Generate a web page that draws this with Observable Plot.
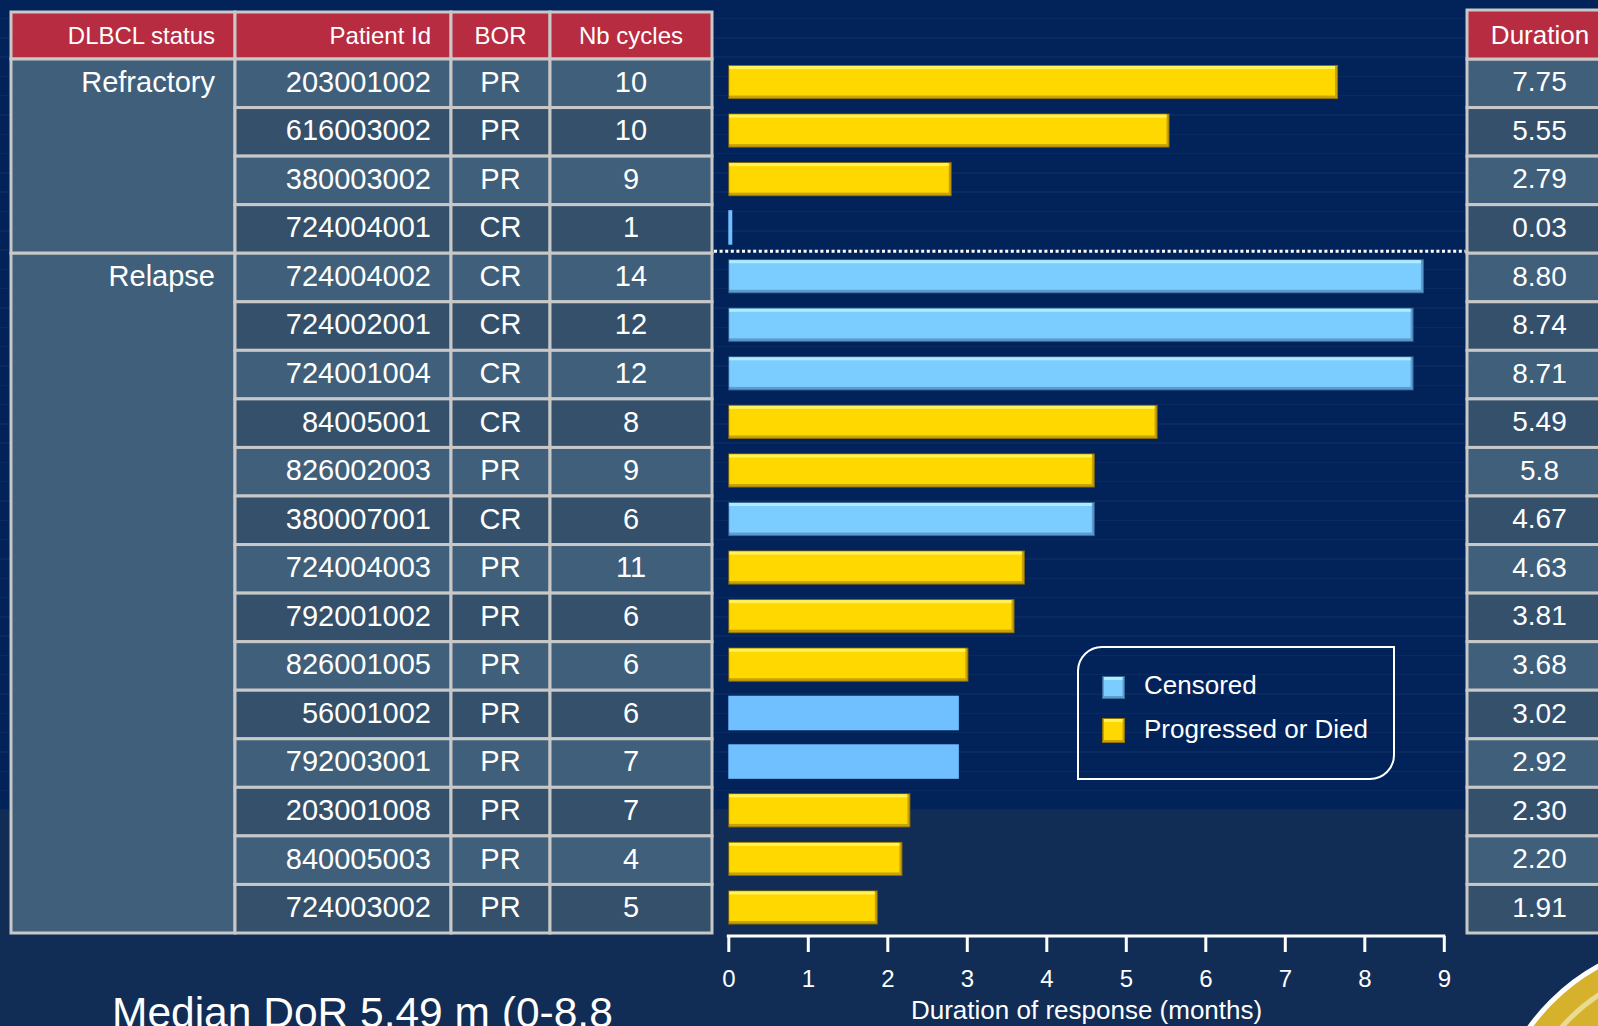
<!DOCTYPE html>
<html>
<head>
<meta charset="utf-8">
<script src="https://cdn.jsdelivr.net/npm/d3@7"></script>
<script src="https://cdn.jsdelivr.net/npm/@observablehq/plot@0.6"></script>
<style>
html, body { margin: 0; padding: 0; }
body { width: 1598px; height: 1026px; overflow: hidden; position: relative; background: #112d55; font-family: 'Liberation Sans', Arial, sans-serif; }
#topband { position: absolute; left: 0; top: 0; width: 1598px; height: 810px;
  background: repeating-linear-gradient(to bottom, #02225a 0px, #02225a 17.8px, #0a2a5f 17.8px, #0a2a5f 19.3px); }
#chart { position: absolute; left: 0; top: 0; }
</style>
</head>
<body>
<div id="topband"></div>
<div id="chart"></div>
<script>
// ---------------- data ----------------
const patientIds = ["203001002","616003002","380003002","724004001","724004002","724002001","724001004","84005001","826002003","380007001","724004003","792001002","826001005","56001002","792003001","203001008","840005003","724003002"];
const dlbclStatus = ["Refractory","Refractory","Refractory","Refractory","Relapse","Relapse","Relapse","Relapse","Relapse","Relapse","Relapse","Relapse","Relapse","Relapse","Relapse","Relapse","Relapse","Relapse"];
const bestResponse = ["PR","PR","PR","CR","CR","CR","CR","CR","PR","CR","PR","PR","PR","PR","PR","PR","PR","PR"];
const nbCycles = [10,10,9,1,14,12,12,8,9,6,11,6,6,6,7,7,4,5];
const durationText = ["7.75","5.55","2.79","0.03","8.80","8.74","8.71","5.49","5.8","4.67","4.63","3.81","3.68","3.02","2.92","2.30","2.20","1.91"];
const barMonths = [7.67,5.55,2.81,0.05,8.75,8.62,8.62,5.40,4.61,4.61,3.73,3.60,3.02,2.90,2.90,2.29,2.19,1.88];
const outcome = ["Progressed or Died","Progressed or Died","Progressed or Died","Censored","Censored","Censored","Censored","Progressed or Died","Progressed or Died","Censored","Progressed or Died","Progressed or Died","Progressed or Died","Censored","Censored","Progressed or Died","Progressed or Died","Progressed or Died"];
const tableHeaders = ["DLBCL status","Patient Id","BOR","Nb cycles"];
const durationHeader = "Duration";
const xTicks = [0,1,2,3,4,5,6,7,8,9];
const xLabel = "Duration of response (months)";
const legendLabels = ["Censored","Progressed or Died"];
const medianNote = "Median DoR 5.49 m (0-8.8";

// ---------------- layout & style ----------------
const FONT = "'Liberation Sans', Arial, Helvetica, sans-serif";
const rows = patientIds.map((id, i) => ({
  row: String(i), id, status: dlbclStatus[i], bor: bestResponse[i], cycles: nbCycles[i],
  duration: durationText[i], months: barMonths[i], outcome: outcome[i]
}));
const rowKeys = rows.map(d => d.row);

const Y_TOP = 59, Y_BOTTOM = 933, AXIS_Y = 936;
const ROW_H = (Y_BOTTOM - Y_TOP) / rows.length;
const COLS = [11, 235, 451, 550, 712];
const HEADER_TOP = 12;
const DUR_COL = [1467, 1614];
const DUR_TOP = 10;
const GRID = "#c8c8c8";
const HEAD_FILL = "#b82c41";
const CELL_A = "#405f7a", CELL_B = "#34506a";

const STYLE = {
  "Progressed or Died": {edge: "#8c7008", shade: "#c9a206", body: "#ffd800", light: "#fff35c"},
  "Censored": {edge: "#3a6b9a", shade: "#5e9ccd", body: "#7ccdff", light: "#b0ecff"}
};
const FLAT_BLUE = "#70c0ff";
const flatBarRows = new Set([3, 13, 14]);
const BAR_TOP = 6, BAR_BOTTOM = 8.5;

function bevelBars(data, s) {
  const c = {x: "months", y: "row"};
  return [
    Plot.barX(data, {...c, fill: s.edge, insetTop: BAR_TOP, insetBottom: BAR_BOTTOM}),
    Plot.barX(data, {...c, fill: s.shade, insetTop: BAR_TOP + 1, insetBottom: BAR_BOTTOM + 1, insetLeft: 1, insetRight: 1}),
    Plot.barX(data, {...c, fill: s.body, insetTop: BAR_TOP + 1, insetBottom: BAR_BOTTOM + 3.5, insetLeft: 1, insetRight: 3}),
    Plot.barX(data, {...c, fill: s.light, insetTop: BAR_TOP + 1, insetBottom: ROW_H - BAR_TOP - 4, insetLeft: 1, insetRight: 3})
  ];
}

function addText(g, str, x, yb, size, anchor) {
  g.append("text").attr("x", x).attr("y", yb).attr("font-size", size)
    .attr("text-anchor", anchor).attr("fill", "white").attr("font-family", FONT).text(str);
}
function addRect(g, x, y, w, h, fill, stroke) {
  const r = g.append("rect").attr("x", x).attr("y", y).attr("width", w).attr("height", h).attr("fill", fill);
  if (stroke) r.attr("stroke", stroke).attr("stroke-width", 3);
  return r;
}
function swatch(g, x, y, w, h, s) {
  addRect(g, x, y, w, h, s.edge);
  addRect(g, x + 1, y + 1, w - 2, h - 2, s.shade);
  addRect(g, x + 2, y + 1, w - 4.5, h - 4, s.body);
  addRect(g, x + 2, y + 1, w - 4.5, 3, s.light);
}

function layoutLayer(index, scales, values, dims) {
  const y = scales.y, x = scales.x;
  const bw = y.bandwidth ? y.bandwidth() : ROW_H;
  const top = i => y(rowKeys[i]);
  const first = top(0);
  const g = d3.create("svg:g");

  // decorative logo (bottom right)
  g.append("circle").attr("cx", 1700).attr("cy", 1150).attr("r", 210)
    .attr("fill", "#d6b22c").attr("stroke", "white").attr("stroke-width", 5);
  g.append("circle").attr("cx", 1700).attr("cy", 1150).attr("r", 185)
    .attr("fill", "none").attr("stroke", "#eadb93").attr("stroke-width", 5);

  // header row (left table)
  for (let c = 0; c < 4; c++) addRect(g, COLS[c], HEADER_TOP, COLS[c + 1] - COLS[c], first - HEADER_TOP, HEAD_FILL, GRID);
  // status merged cells
  let start = 0;
  for (let i = 1; i <= rows.length; i++) {
    if (i === rows.length || rows[i].status !== rows[start].status) {
      addRect(g, COLS[0], top(start), COLS[1] - COLS[0], bw * (i - start), CELL_A, GRID);
      start = i;
    }
  }
  // body cells
  rows.forEach((d, i) => {
    const f = i % 2 === 0 ? CELL_A : CELL_B;
    for (let c = 1; c < 4; c++) addRect(g, COLS[c], top(i), COLS[c + 1] - COLS[c], bw, f, GRID);
    addRect(g, DUR_COL[0], top(i), DUR_COL[1] - DUR_COL[0], bw, f, GRID);
  });
  // duration header
  addRect(g, DUR_COL[0], DUR_TOP, DUR_COL[1] - DUR_COL[0], first - DUR_TOP, HEAD_FILL, GRID);

  // header texts
  const hb = (HEADER_TOP + first) / 2 + 8.5;
  addText(g, tableHeaders[0], COLS[1] - 20, hb, 24, "end");
  addText(g, tableHeaders[1], COLS[2] - 20, hb, 24, "end");
  addText(g, tableHeaders[2], (COLS[2] + COLS[3]) / 2, hb, 24, "middle");
  addText(g, tableHeaders[3], (COLS[3] + COLS[4]) / 2, hb, 24, "middle");
  addText(g, durationHeader, 1540, (DUR_TOP + first) / 2 + 9.5, 26, "middle");

  // body texts
  rows.forEach((d, i) => {
    const b = top(i) + bw / 2 + 10.4 - 2;
    if (i === 0 || rows[i - 1].status !== d.status) addText(g, d.status, COLS[1] - 20, b, 29, "end");
    addText(g, d.id, COLS[2] - 20, b, 29, "end");
    addText(g, d.bor, (COLS[2] + COLS[3]) / 2, b, 29, "middle");
    addText(g, String(d.cycles), (COLS[3] + COLS[4]) / 2, b, 29, "middle");
    addText(g, d.duration, 1539.5, top(i) + bw / 2 + 10 - 2, 28, "middle");
  });

  // dotted separator between refractory and relapse
  const sep = rows.findIndex(d => d.status !== rows[0].status);
  g.append("line").attr("x1", 714).attr("x2", DUR_COL[0] - 1.5)
    .attr("y1", top(sep) - 2).attr("y2", top(sep) - 2)
    .attr("stroke", "white").attr("stroke-width", 3).attr("stroke-dasharray", "3,2.6");

  // axis baseline
  const ab = dims.height - dims.marginBottom;
  g.append("line").attr("x1", x(xTicks[0]) - 1.5).attr("x2", x(xTicks[xTicks.length - 1]) + 1.5)
    .attr("y1", ab).attr("y2", ab).attr("stroke", "white").attr("stroke-width", 3);

  // legend
  const L = {x0: 1078, y0: 647, x1: 1394, y1: 779, r: 24};
  g.append("path")
    .attr("d", `M${L.x0},${L.y1} V${L.y0 + L.r} A${L.r},${L.r} 0 0 1 ${L.x0 + L.r},${L.y0} H${L.x1} V${L.y1 - L.r} A${L.r},${L.r} 0 0 1 ${L.x1 - L.r},${L.y1} Z`)
    .attr("fill", "none").attr("stroke", "white").attr("stroke-width", 2);
  swatch(g, 1102, 676, 23, 23, STYLE[legendLabels[0]]);
  swatch(g, 1102, 718, 23, 25, STYLE[legendLabels[1]]);
  addText(g, legendLabels[0], 1144, 694, 26, "start");
  addText(g, legendLabels[1], 1144, 738, 26, "start");

  // median note
  addText(g, medianNote, 112, 1027, 42.5, "start");
  return g.node();
}

const bevelData = rows.filter((d, i) => !flatBarRows.has(i));
const flatData = rows.filter((d, i) => flatBarRows.has(i));

const chart = Plot.plot({
  width: 1598, height: 1026,
  marginLeft: 728.3, marginRight: 154.2, marginTop: Y_TOP, marginBottom: 1026 - AXIS_Y,
  style: {background: "transparent", color: "white", fontFamily: FONT, overflow: "hidden"},
  x: {domain: [0, 9], ticks: xTicks},
  y: {type: "band", domain: rowKeys, range: [Y_TOP, Y_BOTTOM], padding: 0, round: false, axis: null},
  marks: [
    layoutLayer,
    ...bevelBars(bevelData.filter(d => d.outcome === "Progressed or Died"), STYLE["Progressed or Died"]),
    ...bevelBars(bevelData.filter(d => d.outcome === "Censored"), STYLE["Censored"]),
    Plot.barX(flatData, {x: "months", y: "row", fill: FLAT_BLUE, insetTop: 5.5, insetBottom: 8.5}),
    Plot.axisX({ticks: xTicks, tickSize: 16, tickPadding: 17, fontSize: 24, strokeWidth: 3, label: null, tickFormat: d => String(d)}),
    Plot.text([xLabel], {text: d => d, frameAnchor: "bottom", lineAnchor: "top", dy: 64.5, fontSize: 26, fill: "white"})
  ]
});
document.getElementById("chart").appendChild(chart);
</script>
</body>
</html>
